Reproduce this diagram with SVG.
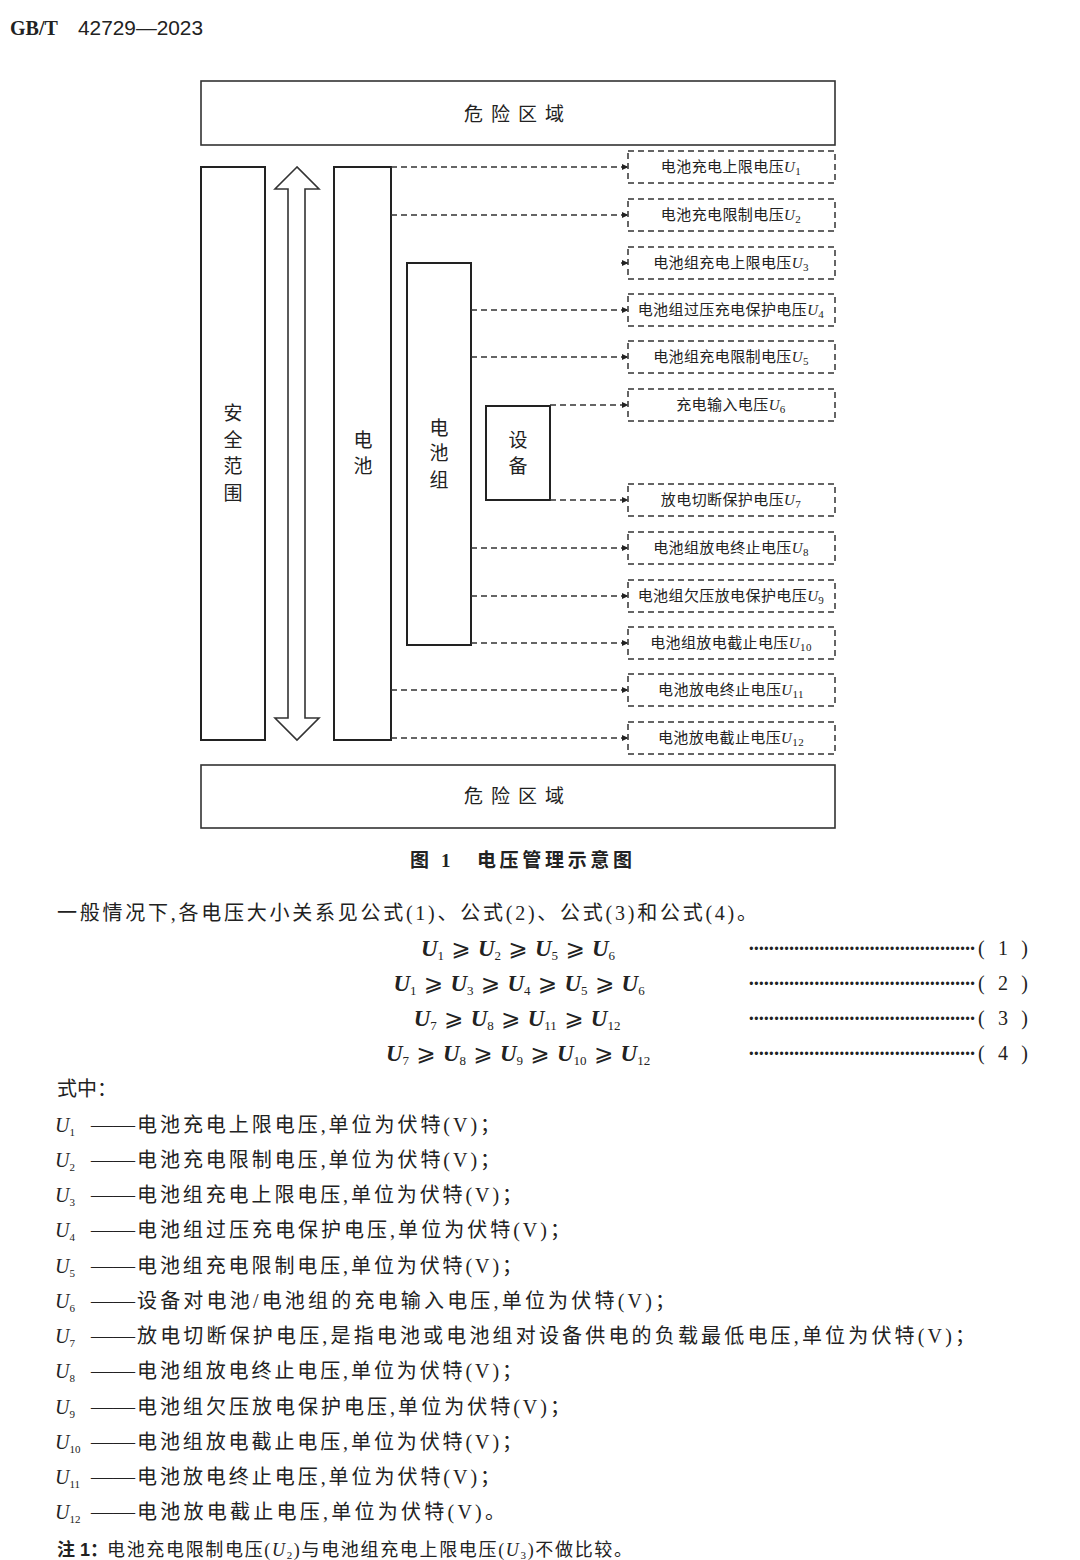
<svg xmlns="http://www.w3.org/2000/svg" width="1080" height="1560" viewBox="0 0 1080 1560">
<defs>
<style>
text{font-family:"Liberation Serif","Noto Sans CJK SC",serif;fill:#222}
.box{fill:none;stroke:#222;stroke-width:2}
.zone{fill:none;stroke:#333;stroke-width:1.6}
.dbox{fill:none;stroke:#333;stroke-width:1.5;stroke-dasharray:6,4}
.con{fill:none;stroke:#333;stroke-width:1.5;stroke-dasharray:6,4;marker-end:url(#ah)}
.lbl{font-size:15px;text-anchor:middle;letter-spacing:0.4px}
.vt{font-size:19px;text-anchor:middle}
.body{font-size:20px}
.u{font-style:italic}
.sub{font-size:11px;font-style:normal}
.fm{font-size:23px;text-anchor:middle}
.fm .u{font-weight:bold;font-style:italic}
.fm .sub{font-size:13px}
.ge{font-family:"DejaVu Serif","DejaVu Sans",serif}
.dots{font-weight:bold;font-size:20px}
</style>
<marker id="ah" markerWidth="7" markerHeight="7" refX="6" refY="3.5" orient="auto" markerUnits="userSpaceOnUse">
<path d="M0,0.5 L6.5,3.5 L0,6.5 Z" fill="#222"/>
</marker>
</defs>
<rect width="1080" height="1560" fill="#fff"/>

<text x="10" y="35" style="font-size:20px;font-weight:bold">GB/T</text>
<text x="78" y="35" style="font-family:'Liberation Sans','Noto Sans CJK SC',sans-serif;font-size:20px" textLength="125" lengthAdjust="spacingAndGlyphs">42729—2023</text>

<g id="danger-top"><rect class="zone" x="201" y="81" width="634" height="64"/><text x="518" y="121" class="vt" letter-spacing="8">危险区域</text></g>
<g id="danger-bottom"><rect class="zone" x="201" y="765" width="634" height="63"/><text x="518" y="803" class="vt" letter-spacing="8">危险区域</text></g>

<g id="safe-range"><rect class="box" x="201" y="167" width="64" height="573"/>
<text class="vt" x="233" y="420">安</text><text class="vt" x="233" y="447">全</text><text class="vt" x="233" y="473">范</text><text class="vt" x="233" y="500">围</text></g>

<g id="range-arrow"><polygon points="297,167 275,189 288,189 288,718 275,718 297,740 319,718 305,718 305,189 319,189" fill="#fff" stroke="#333" stroke-width="1.6"/></g>

<g id="battery"><rect class="box" x="334" y="167" width="57" height="573"/>
<text class="vt" x="363" y="447">电</text><text class="vt" x="363" y="473">池</text></g>

<g id="battery-pack"><rect class="box" x="407" y="263" width="64" height="382"/>
<text class="vt" x="439" y="435">电</text><text class="vt" x="439" y="460">池</text><text class="vt" x="439" y="487">组</text></g>

<g id="device"><rect class="box" x="486" y="406" width="64" height="94"/>
<text class="vt" x="518" y="447">设</text><text class="vt" x="518" y="473">备</text></g>

<g id="connectors">
<line class="con" x1="391" y1="167" x2="628" y2="167"/>
<line class="con" x1="391" y1="215" x2="628" y2="215"/>
<line class="con" x1="621" y1="263" x2="628" y2="263" style="stroke-dasharray:none"/>
<line class="con" x1="471" y1="310" x2="628" y2="310"/>
<line class="con" x1="471" y1="357" x2="628" y2="357"/>
<line class="con" x1="550" y1="405" x2="628" y2="405"/>
<line class="con" x1="550" y1="500" x2="628" y2="500"/>
<line class="con" x1="471" y1="548" x2="628" y2="548"/>
<line class="con" x1="471" y1="596" x2="628" y2="596"/>
<line class="con" x1="471" y1="643" x2="628" y2="643"/>
<line class="con" x1="391" y1="690" x2="628" y2="690"/>
<line class="con" x1="391" y1="738" x2="628" y2="738"/>
</g>

<g id="u1"><rect class="dbox" x="628" y="151" width="207" height="32"/><text class="lbl" x="731" y="172">电池充电上限电压<tspan class="u">U</tspan><tspan class="sub" dy="3">1</tspan></text></g>
<g id="u2"><rect class="dbox" x="628" y="199" width="207" height="32"/><text class="lbl" x="731" y="220">电池充电限制电压<tspan class="u">U</tspan><tspan class="sub" dy="3">2</tspan></text></g>
<g id="u3"><rect class="dbox" x="628" y="247" width="207" height="32"/><text class="lbl" x="731" y="268">电池组充电上限电压<tspan class="u">U</tspan><tspan class="sub" dy="3">3</tspan></text></g>
<g id="u4"><rect class="dbox" x="628" y="294" width="207" height="32"/><text class="lbl" x="731" y="315" letter-spacing="0">电池组过压充电保护电压<tspan class="u">U</tspan><tspan class="sub" dy="3">4</tspan></text></g>
<g id="u5"><rect class="dbox" x="628" y="341" width="207" height="32"/><text class="lbl" x="731" y="362">电池组充电限制电压<tspan class="u">U</tspan><tspan class="sub" dy="3">5</tspan></text></g>
<g id="u6"><rect class="dbox" x="628" y="389" width="207" height="32"/><text class="lbl" x="731" y="410">充电输入电压<tspan class="u">U</tspan><tspan class="sub" dy="3">6</tspan></text></g>
<g id="u7"><rect class="dbox" x="628" y="484" width="207" height="32"/><text class="lbl" x="731" y="505">放电切断保护电压<tspan class="u">U</tspan><tspan class="sub" dy="3">7</tspan></text></g>
<g id="u8"><rect class="dbox" x="628" y="532" width="207" height="32"/><text class="lbl" x="731" y="553">电池组放电终止电压<tspan class="u">U</tspan><tspan class="sub" dy="3">8</tspan></text></g>
<g id="u9"><rect class="dbox" x="628" y="580" width="207" height="32"/><text class="lbl" x="731" y="601" letter-spacing="0">电池组欠压放电保护电压<tspan class="u">U</tspan><tspan class="sub" dy="3">9</tspan></text></g>
<g id="u10"><rect class="dbox" x="628" y="627" width="207" height="32"/><text class="lbl" x="731" y="648">电池组放电截止电压<tspan class="u">U</tspan><tspan class="sub" dy="3">10</tspan></text></g>
<g id="u11"><rect class="dbox" x="628" y="674" width="207" height="32"/><text class="lbl" x="731" y="695">电池放电终止电压<tspan class="u">U</tspan><tspan class="sub" dy="3">11</tspan></text></g>
<g id="u12"><rect class="dbox" x="628" y="722" width="207" height="32"/><text class="lbl" x="731" y="743">电池放电截止电压<tspan class="u">U</tspan><tspan class="sub" dy="3">12</tspan></text></g>

<text x="521" y="867" style="font-size:19px;font-weight:bold;text-anchor:middle" textLength="222" lengthAdjust="spacing">图 1　电压管理示意图</text>

<text class="body" x="57" y="920" textLength="700" lengthAdjust="spacing">一般情况下,各电压大小关系见公式(1)、公式(2)、公式(3)和公式(4)。</text>

<text class="fm" x="518" y="956"><tspan class="u">U</tspan><tspan class="sub" dy="4">1</tspan><tspan dy="-4" class="ge"> ⩾ </tspan><tspan class="u">U</tspan><tspan class="sub" dy="4">2</tspan><tspan dy="-4" class="ge"> ⩾ </tspan><tspan class="u">U</tspan><tspan class="sub" dy="4">5</tspan><tspan dy="-4" class="ge"> ⩾ </tspan><tspan class="u">U</tspan><tspan class="sub" dy="4">6</tspan></text>
<text class="fm" x="519" y="991"><tspan class="u">U</tspan><tspan class="sub" dy="4">1</tspan><tspan dy="-4" class="ge"> ⩾ </tspan><tspan class="u">U</tspan><tspan class="sub" dy="4">3</tspan><tspan dy="-4" class="ge"> ⩾ </tspan><tspan class="u">U</tspan><tspan class="sub" dy="4">4</tspan><tspan dy="-4" class="ge"> ⩾ </tspan><tspan class="u">U</tspan><tspan class="sub" dy="4">5</tspan><tspan dy="-4" class="ge"> ⩾ </tspan><tspan class="u">U</tspan><tspan class="sub" dy="4">6</tspan></text>
<text class="fm" x="517" y="1026"><tspan class="u">U</tspan><tspan class="sub" dy="4">7</tspan><tspan dy="-4" class="ge"> ⩾ </tspan><tspan class="u">U</tspan><tspan class="sub" dy="4">8</tspan><tspan dy="-4" class="ge"> ⩾ </tspan><tspan class="u">U</tspan><tspan class="sub" dy="4">11</tspan><tspan dy="-4" class="ge"> ⩾ </tspan><tspan class="u">U</tspan><tspan class="sub" dy="4">12</tspan></text>
<text class="fm" x="518" y="1061"><tspan class="u">U</tspan><tspan class="sub" dy="4">7</tspan><tspan dy="-4" class="ge"> ⩾ </tspan><tspan class="u">U</tspan><tspan class="sub" dy="4">8</tspan><tspan dy="-4" class="ge"> ⩾ </tspan><tspan class="u">U</tspan><tspan class="sub" dy="4">9</tspan><tspan dy="-4" class="ge"> ⩾ </tspan><tspan class="u">U</tspan><tspan class="sub" dy="4">10</tspan><tspan dy="-4" class="ge"> ⩾ </tspan><tspan class="u">U</tspan><tspan class="sub" dy="4">12</tspan></text>

<g id="eq-numbers" style="font-size:20px">
<text class="dots" x="748" y="955" textLength="228" lengthAdjust="spacing">·············································</text><text x="978" y="955" textLength="50" lengthAdjust="spacing">( 1 )</text>
<text class="dots" x="748" y="990" textLength="228" lengthAdjust="spacing">·············································</text><text x="978" y="990" textLength="50" lengthAdjust="spacing">( 2 )</text>
<text class="dots" x="748" y="1025" textLength="228" lengthAdjust="spacing">·············································</text><text x="978" y="1025" textLength="50" lengthAdjust="spacing">( 3 )</text>
<text class="dots" x="748" y="1060" textLength="228" lengthAdjust="spacing">·············································</text><text x="978" y="1060" textLength="50" lengthAdjust="spacing">( 4 )</text>
</g>

<text class="body" x="57" y="1096">式中：</text>

<g id="symbols" class="body">
<text x="55" y="1132" class="body"><tspan class="u">U</tspan><tspan class="sub" dy="4">1</tspan></text><text class="body" x="91" y="1132" textLength="44" lengthAdjust="spacingAndGlyphs">——</text><text class="body" x="137" y="1132" textLength="363" lengthAdjust="spacing">电池充电上限电压,单位为伏特(V)；</text>
<text x="55" y="1167" class="body"><tspan class="u">U</tspan><tspan class="sub" dy="4">2</tspan></text><text class="body" x="91" y="1167" textLength="44" lengthAdjust="spacingAndGlyphs">——</text><text class="body" x="137" y="1167" textLength="363" lengthAdjust="spacing">电池充电限制电压,单位为伏特(V)；</text>
<text x="55" y="1202" class="body"><tspan class="u">U</tspan><tspan class="sub" dy="4">3</tspan></text><text class="body" x="91" y="1202" textLength="44" lengthAdjust="spacingAndGlyphs">——</text><text class="body" x="137" y="1202" textLength="385" lengthAdjust="spacing">电池组充电上限电压,单位为伏特(V)；</text>
<text x="55" y="1237" class="body"><tspan class="u">U</tspan><tspan class="sub" dy="4">4</tspan></text><text class="body" x="91" y="1237" textLength="44" lengthAdjust="spacingAndGlyphs">——</text><text class="body" x="137" y="1237" textLength="433" lengthAdjust="spacing">电池组过压充电保护电压,单位为伏特(V)；</text>
<text x="55" y="1273" class="body"><tspan class="u">U</tspan><tspan class="sub" dy="4">5</tspan></text><text class="body" x="91" y="1273" textLength="44" lengthAdjust="spacingAndGlyphs">——</text><text class="body" x="137" y="1273" textLength="385" lengthAdjust="spacing">电池组充电限制电压,单位为伏特(V)；</text>
<text x="55" y="1308" class="body"><tspan class="u">U</tspan><tspan class="sub" dy="4">6</tspan></text><text class="body" x="91" y="1308" textLength="44" lengthAdjust="spacingAndGlyphs">——</text><text class="body" x="137" y="1308" textLength="538" lengthAdjust="spacing">设备对电池/电池组的充电输入电压,单位为伏特(V)；</text>
<text x="55" y="1343" class="body"><tspan class="u">U</tspan><tspan class="sub" dy="4">7</tspan></text><text class="body" x="91" y="1343" textLength="44" lengthAdjust="spacingAndGlyphs">——</text><text class="body" x="137" y="1343" textLength="838" lengthAdjust="spacing">放电切断保护电压,是指电池或电池组对设备供电的负载最低电压,单位为伏特(V)；</text>
<text x="55" y="1378" class="body"><tspan class="u">U</tspan><tspan class="sub" dy="4">8</tspan></text><text class="body" x="91" y="1378" textLength="44" lengthAdjust="spacingAndGlyphs">——</text><text class="body" x="137" y="1378" textLength="385" lengthAdjust="spacing">电池组放电终止电压,单位为伏特(V)；</text>
<text x="55" y="1414" class="body"><tspan class="u">U</tspan><tspan class="sub" dy="4">9</tspan></text><text class="body" x="91" y="1414" textLength="44" lengthAdjust="spacingAndGlyphs">——</text><text class="body" x="137" y="1414" textLength="433" lengthAdjust="spacing">电池组欠压放电保护电压,单位为伏特(V)；</text>
<text x="55" y="1449" class="body"><tspan class="u">U</tspan><tspan class="sub" dy="4">10</tspan></text><text class="body" x="91" y="1449" textLength="44" lengthAdjust="spacingAndGlyphs">——</text><text class="body" x="137" y="1449" textLength="385" lengthAdjust="spacing">电池组放电截止电压,单位为伏特(V)；</text>
<text x="55" y="1484" class="body"><tspan class="u">U</tspan><tspan class="sub" dy="4">11</tspan></text><text class="body" x="91" y="1484" textLength="44" lengthAdjust="spacingAndGlyphs">——</text><text class="body" x="137" y="1484" textLength="363" lengthAdjust="spacing">电池放电终止电压,单位为伏特(V)；</text>
<text x="55" y="1519" class="body"><tspan class="u">U</tspan><tspan class="sub" dy="4">12</tspan></text><text class="body" x="91" y="1519" textLength="44" lengthAdjust="spacingAndGlyphs">——</text><text class="body" x="137" y="1519" textLength="368" lengthAdjust="spacing">电池放电截止电压,单位为伏特(V)。</text>
</g>

<text x="57" y="1556" style="font-size:18px;font-weight:bold;font-family:'Liberation Sans','Noto Sans CJK SC',sans-serif">注 1：</text>
<text x="107" y="1556" style="font-size:18px" textLength="525" lengthAdjust="spacing">电池充电限制电压(<tspan class="u">U</tspan><tspan class="sub" dy="3">2</tspan><tspan dy="-3">)与电池组充电上限电压(</tspan><tspan class="u">U</tspan><tspan class="sub" dy="3">3</tspan><tspan dy="-3">)不做比较。</tspan></text>
</svg>
